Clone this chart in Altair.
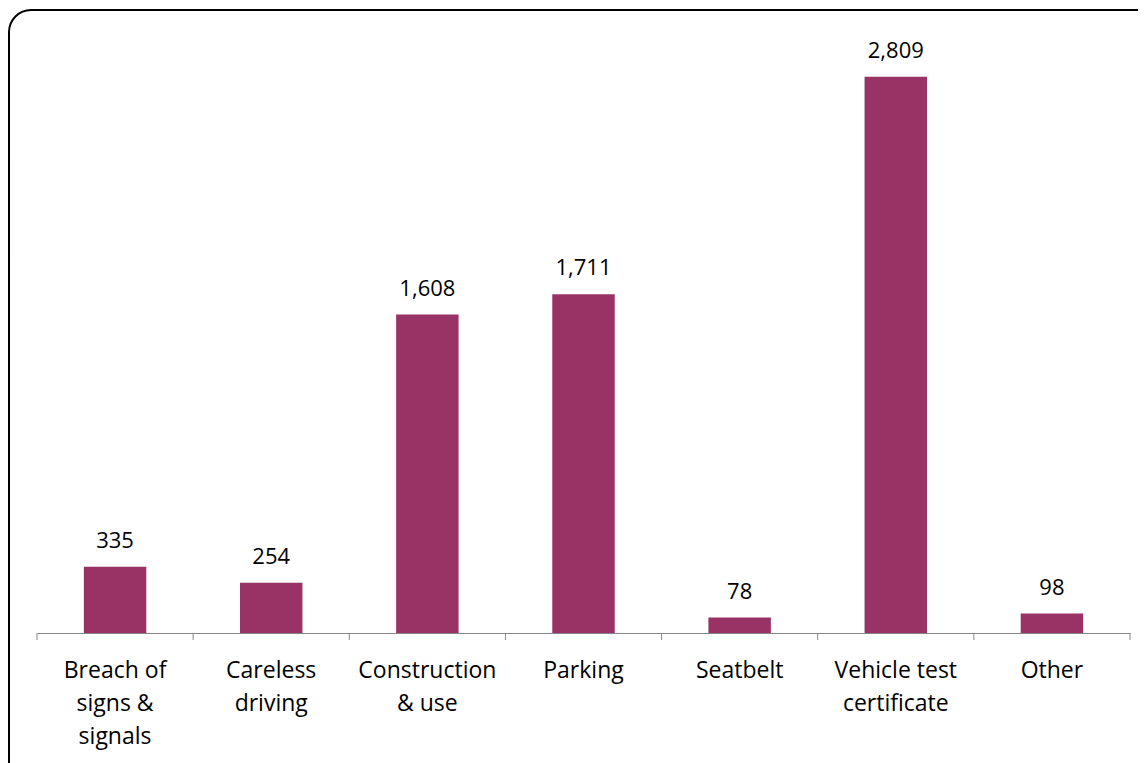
import altair as alt
import pandas as pd

categories = ["Breach of\nsigns &\nsignals", "Careless\ndriving", "Construction\n& use",
              "Parking", "Seatbelt", "Vehicle test\ncertificate", "Other"]
values = [335, 254, 1608, 1711, 78, 2809, 98]
boundaries = list(range(len(categories) + 1))

df = pd.DataFrame({"category": categories, "value": values})
bdf = pd.DataFrame({"b": boundaries})

W, H = 1093, 594
FONT = "Open Sans"
BAR = "#993366"

x = alt.X("category:N", sort=categories, title=None,
          scale=alt.Scale(paddingInner=0.6, paddingOuter=0.3),
          axis=alt.Axis(labelAngle=0, ticks=False, domainColor="#868686", domainWidth=1,
                        labelFont=FONT, labelFontSize=23, labelColor="#000000",
                        labelPadding=26, labelLineHeight=33, labelBaseline="top",
                        labelExpr="split(datum.value, '\\n')"))
y = alt.Y("value:Q", title=None, scale=alt.Scale(domain=[0, 3000]), axis=None)

bars = alt.Chart(df).mark_bar(color=BAR).encode(x=x, y=y)
text = alt.Chart(df).mark_text(font=FONT, fontSize=22, baseline="alphabetic", dy=-19,
                               color="#000000").encode(
    x=alt.X("category:N", sort=categories), y=y, text=alt.Text("value:Q", format=","))
main = alt.layer(bars, text)

ticks = alt.Chart(bdf).mark_rule(color="#868686", strokeWidth=1).encode(
    x=alt.X("b:Q", scale=alt.Scale(domain=[0, len(categories)], nice=False, zero=False), axis=None),
    y=alt.value(H), y2=alt.value(H + 7))

border = alt.Chart(bdf.head(1)).mark_rect(
    fill=None, stroke="#000000", strokeWidth=2, cornerRadius=22).encode(
    x=alt.value(-28), x2=alt.value(W + 40), y=alt.value(-29), y2=alt.value(H + 180))

chart = alt.layer(border, main, ticks).resolve_scale(x="independent").properties(
    width=W, height=H,
    background="white",
    autosize=alt.AutoSizeParams(type="none"),
    padding={"left": 29, "top": 31, "right": 8, "bottom": 130},
).configure_view(strokeWidth=0, stroke=None)

chart.save("out.html", embed_options={"renderer": "svg", "actions": False})
